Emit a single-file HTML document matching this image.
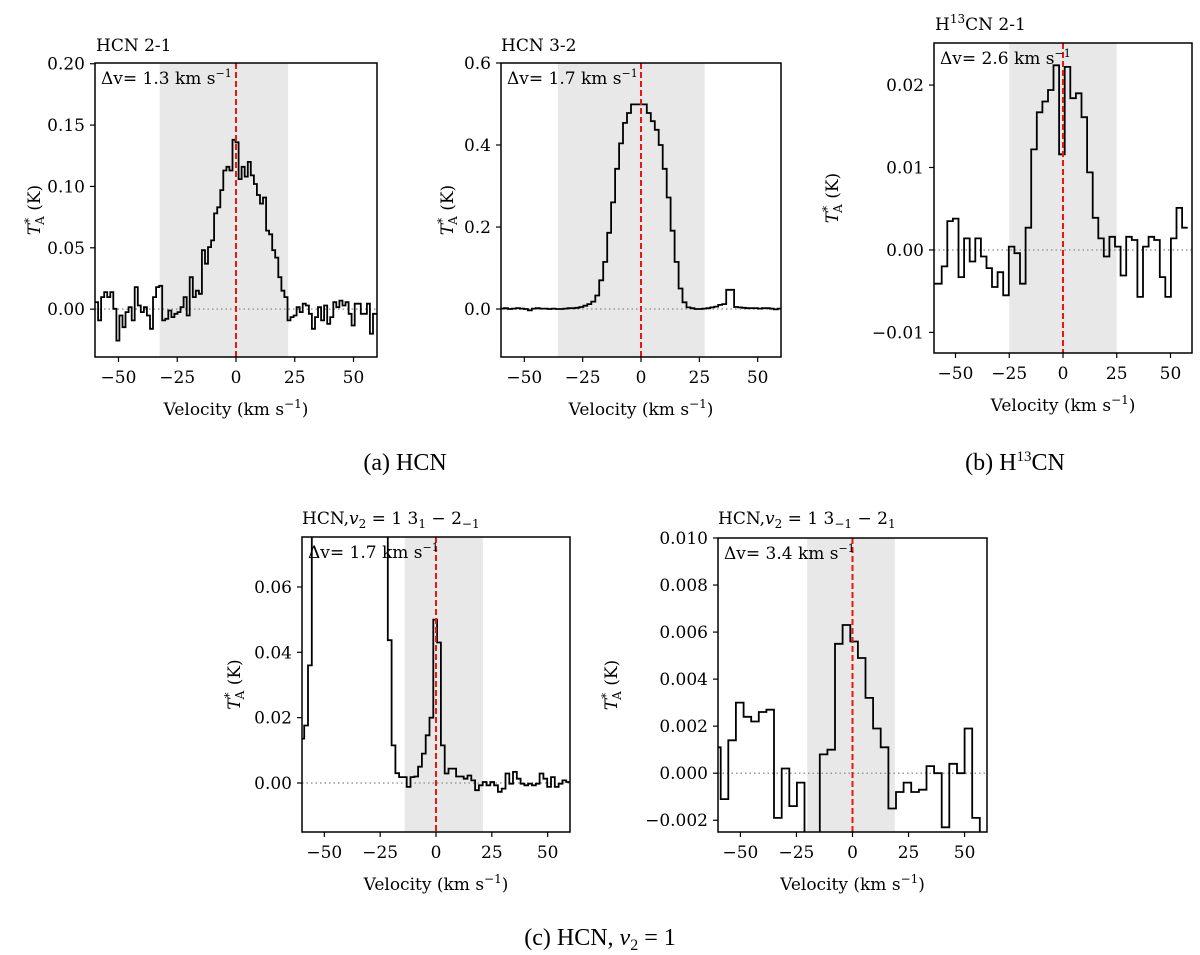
<!DOCTYPE html>
<html><head><meta charset="utf-8"><style>
html,body{margin:0;padding:0;background:#fff;}
svg{display:block;}
.tk{font-family:"DejaVu Serif","Liberation Serif",serif;font-size:17px;fill:#000;}
.lb{font-family:"DejaVu Serif","Liberation Serif",serif;font-size:17px;fill:#000;}
.ti{font-family:"DejaVu Serif","Liberation Serif",serif;font-size:17px;fill:#000;}
.cap{font-family:"Liberation Serif",serif;font-size:24px;fill:#000;}
</style></head><body>
<svg id="fig" width="1200" height="955" viewBox="0 0 1200 955" xmlns="http://www.w3.org/2000/svg">
<text class="cap" x="405" y="470" text-anchor="middle">(a) HCN</text>
<text class="cap" x="1015" y="470" text-anchor="middle">(b) H<tspan dy="-9" font-size="15">13</tspan><tspan dy="9">CN</tspan></text>
<text class="cap" x="600" y="945" text-anchor="middle">(c) HCN, <tspan font-style="italic">v</tspan><tspan dy="5" font-size="16">2</tspan><tspan dy="-5"> = 1</tspan></text>
</svg>
<script>
// ---- data ----
const hcn21Start = -60, hcn21Width = 1.3;
const hcn21Values = [0.0057,-0.0092,0.0098,0.0139,0.0098,0.0139,0.0003,-0.0256,-0.0052,-0.0147,-0.0024,0.0016,-0.0092,0.018,0.003,-0.0024,0.0016,-0.0052,-0.016,0.0098,0.018,0.019,-0.0092,-0.0079,-0.0011,-0.0065,-0.0038,-0.0024,0.0016,0.0098,-0.0052,0.026,0.0098,0.015,0.0125,0.048,0.037,0.0506,0.056,0.078,0.083,0.097,0.113,0.116,0.113,0.138,0.136,0.106,0.116,0.108,0.12,0.109,0.102,0.093,0.086,0.091,0.064,0.061,0.048,0.042,0.026,0.015,0.0098,-0.0092,-0.0065,-0.0052,0.0016,-0.0024,0.0044,0.003,-0.0038,-0.016,-0.0065,0.0016,-0.0092,0.003,-0.012,-0.0065,0.0057,0.0016,0.007,0.003,0.0057,-0.0038,-0.0133,0.0044,0.0044,-0.0038,-0.0038,0.0044,-0.02,-0.0038,-0.0038,-0.012];
const hcn32Start = -60.4, hcn32Width = 1.7;
const hcn32Values = [0.001,0.002,0.0,0.001,0.002,0.001,0.0,-0.003,0.001,0.002,0.001,0.001,0.0,0.001,0.0,0.0,0.001,0.002,0.002,0.003,0.005,0.008,0.012,0.018,0.033,0.07,0.115,0.186,0.26,0.342,0.404,0.454,0.478,0.499,0.499,0.499,0.499,0.478,0.458,0.437,0.4,0.342,0.272,0.191,0.115,0.05,0.0165,0.004,0.002,0.0,0.0,0.001,0.002,0.004,0.006,0.01,0.012,0.047,0.047,0.005,0.004,0.003,0.002,0.002,0.002,0.001,0.002,0.002,0.001,-0.001,0.001];
const h13cnStart = -61.6, h13cnWidth = 2.6;
const h13cnValues = [-0.0041,-0.0041,-0.002,0.0035,0.0038,-0.0033,0.0014,-0.0014,0.0014,-0.0008,-0.0022,-0.0045,-0.0027,-0.0055,0.0004,-0.0004,-0.0041,0.0027,0.0122,0.0167,0.018,0.0194,0.0224,0.0116,0.0222,0.0184,0.019,0.0161,0.0094,0.0039,0.0014,-0.0008,0.0016,0.0004,-0.0031,0.0016,0.0012,-0.0057,0.0004,0.0016,0.0012,-0.0033,-0.0057,0.0014,0.0051,0.0027];
const v2aStart = -60.7, v2aWidth = 1.7;
const v2aValues = [0.0136,0.0176,0.036,0.3,0.3,0.3,0.3,0.3,0.3,0.3,0.3,0.3,0.3,0.3,0.3,0.3,0.3,0.3,0.3,0.3,0.3,0.3,0.3,0.0437,0.0115,0.003,0.0018,0.0018,-0.0012,0.0018,0.002,0.005,0.009,0.0146,0.02,0.05,0.043,0.0115,0.0029,0.0044,0.0044,0.002,0.002,0.0013,0.0023,0.0008,-0.0022,-0.0007,0.0003,-0.0007,0.0003,-0.0007,-0.0027,-0.0017,0.0029,-0.0002,0.0034,0.0013,-0.0002,-0.0007,-0.0002,-0.0007,-0.0002,0.0029,0.0013,-0.0012,0.0018,-0.0012,-0.0002,0.0008,0.0003];
const v2bStart = -62.2, v2bWidth = 3.4;
const v2bValues = [0.0011,-0.0011,0.0014,0.003,0.0024,0.0022,0.0026,0.0027,-0.0019,0.0002,-0.0014,-0.0004,-0.003,-0.003,0.0008,0.001,0.0055,0.0063,0.0056,0.0049,0.0032,0.0019,0.0011,-0.0015,-0.0008,-0.0004,-0.0008,-0.0007,0.0003,0.0,-0.0023,0.0004,0.0,0.0019,-0.0019,-0.0026];
const xTicks = [-50,-25,0,25,50];
const hcn21YTicks = [0,0.05,0.10,0.15,0.20], hcn21YLabels = ["0.00","0.05","0.10","0.15","0.20"];
const hcn32YTicks = [0,0.2,0.4,0.6], hcn32YLabels = ["0.0","0.2","0.4","0.6"];
const h13cnYTicks = [-0.01,0,0.01,0.02], h13cnYLabels = ["\u22120.01","0.00","0.01","0.02"];
const v2aYTicks = [0,0.02,0.04,0.06], v2aYLabels = ["0.00","0.02","0.04","0.06"];
const v2bYTicks = [-0.002,0,0.002,0.004,0.006,0.008,0.010], v2bYLabels = ["\u22120.002","0.000","0.002","0.004","0.006","0.008","0.010"];
const bands = [[-32.5,22.2],[-35.6,27.3],[-25,25],[-14,21],[-20.2,18.9]];
const dvLabels = ["1.3","1.7","2.6","1.7","3.4"];

const NS = "http://www.w3.org/2000/svg";
const fig = document.getElementById('fig');
function mk(tag, attrs, parent){ const e=document.createElementNS(NS,tag); for(const k in attrs) e.setAttribute(k,attrs[k]); (parent||fig).appendChild(e); return e; }

const panels = [
 {id:'hcn21', L:95,R:377,T:63,B:357, ymin:-0.039, ymax:0.2006, start:hcn21Start, w:hcn21Width, vals:hcn21Values, yt:hcn21YTicks, yl:hcn21YLabels, band:bands[0], dv:dvLabels[0], ylx:40},
 {id:'hcn32', L:501,R:781,T:63,B:357, ymin:-0.117, ymax:0.6, start:hcn32Start, w:hcn32Width, vals:hcn32Values, yt:hcn32YTicks, yl:hcn32YLabels, band:bands[1], dv:dvLabels[1], ylx:453},
 {id:'h13cn', L:934,R:1192,T:43,B:353, ymin:-0.0125, ymax:0.0251, start:h13cnStart, w:h13cnWidth, vals:h13cnValues, yt:h13cnYTicks, yl:h13cnYLabels, band:bands[2], dv:dvLabels[2], ylx:838},
 {id:'v2a', L:302,R:570,T:537,B:832, ymin:-0.015, ymax:0.0753, start:v2aStart, w:v2aWidth, vals:v2aValues, yt:v2aYTicks, yl:v2aYLabels, band:bands[3], dv:dvLabels[3], ylx:240},
 {id:'v2b', L:718,R:987,T:538,B:832, ymin:-0.0025, ymax:0.010, start:v2bStart, w:v2bWidth, vals:v2bValues, yt:v2bYTicks, yl:v2bYLabels, band:bands[4], dv:dvLabels[4], ylx:617}
];

panels.forEach((p,pi)=>{
  const X = v => p.L + (v+60)/120*(p.R-p.L);
  const Y = v => p.B - (v-p.ymin)/(p.ymax-p.ymin)*(p.B-p.T);
  const g = mk('g',{});
  
  
  const cp = mk('clipPath',{id:'c'+pi},g);
  mk('rect',{x:p.L,y:p.T,width:p.R-p.L,height:p.B-p.T},cp);
  const band = mk('rect',{x:X(p.band[0]),y:p.T,width:X(p.band[1])-X(p.band[0]),height:p.B-p.T,fill:'#e8e8e8'},g);
  
  
  const zl = mk('line',{x1:p.L,x2:p.R,y1:Y(0),y2:Y(0),stroke:'#999','stroke-width':1.5,'stroke-dasharray':'1.5,3'},g);
  
  
  let d='';
  p.vals.forEach((v,i)=>{
    const x0=X(p.start+i*p.w), x1=X(p.start+(i+1)*p.w), y=Y(v);
    d += (i===0?'M':'L')+x0.toFixed(1)+','+y.toFixed(1)+'L'+x1.toFixed(1)+','+y.toFixed(1);
  });
  const sp = mk('path',{d:d,fill:'none',stroke:'#000','stroke-width':1.8,'clip-path':'url(#c'+pi+')'},g);
  
  
  const rl = mk('line',{x1:X(0),x2:X(0),y1:p.T,y2:p.B,stroke:'#e8170f','stroke-width':2,'stroke-dasharray':'6,3'},g);
  
  
  mk('rect',{x:p.L,y:p.T,width:p.R-p.L,height:p.B-p.T,fill:'none',stroke:'#000','stroke-width':1.5},g);
  xTicks.forEach(t=>{
    mk('line',{x1:X(t),x2:X(t),y1:p.B,y2:p.B+5,stroke:'#000','stroke-width':1.2},g);
    const tx = mk('text',{x:X(t),y:p.B+26,'text-anchor':'middle',class:'tk'},g);
    tx.textContent = t<0 ? '\u2212'+Math.abs(t) : String(t);
    
    
  });
  p.yt.forEach((t,i)=>{
    mk('line',{x1:p.L-5,x2:p.L,y1:Y(t),y2:Y(t),stroke:'#000','stroke-width':1.2},g);
    const ty = mk('text',{x:p.L-10,y:Y(t)+6,'text-anchor':'end',class:'tk'},g);
    ty.textContent = p.yl[i];
    
    
  });
  const xl = mk('text',{x:(p.L+p.R)/2,y:p.B+58,'text-anchor':'middle',class:'lb'},g);
  xl.innerHTML = 'Velocity (km s<tspan dy="-7" font-size="12">\u22121</tspan><tspan dy="7">)</tspan>';
  
  
  const cy=(p.T+p.B)/2;
  const yl = mk('text',{x:p.ylx,y:cy,'text-anchor':'middle',class:'lb',transform:'rotate(-90 '+p.ylx+' '+cy+')'},g);
  yl.innerHTML = '<tspan font-style="italic">T</tspan><tspan dy="-7" font-size="12">*</tspan><tspan dx="-7" dy="11" font-size="12">A</tspan><tspan dy="-4"> (K)</tspan>';
  
  
  const dv = mk('text',{x:p.L+6,y:p.T+21,class:'tk','font-size':'16'},g);
  dv.innerHTML = '\u0394v= '+p.dv+' km s<tspan dy="-7" font-size="11">\u22121</tspan>';
  
  
});

function title(x,y,html,name){
  const t = mk('text',{x:x,y:y,class:'ti'});
  t.innerHTML = html;
  
  
}
title(96,51,'HCN 2-1','title-hcn-2-1');
title(501,51,'HCN 3-2','title-hcn-3-2');
title(935,30,'H<tspan dy="-7" font-size="12">13</tspan><tspan dy="7">CN 2-1</tspan>','title-h13cn-2-1');
title(302,524,'HCN,<tspan font-style="italic">v</tspan><tspan dy="4" font-size="12">2</tspan><tspan dy="-4"> = 1 3</tspan><tspan dy="4" font-size="12">1</tspan><tspan dy="-4"> \u2212 2</tspan><tspan dy="4" font-size="12">\u22121</tspan>','title-v2-3-1');
title(718,524,'HCN,<tspan font-style="italic">v</tspan><tspan dy="4" font-size="12">2</tspan><tspan dy="-4"> = 1 3</tspan><tspan dy="4" font-size="12">\u22121</tspan><tspan dy="-4"> \u2212 2</tspan><tspan dy="4" font-size="12">1</tspan>','title-v2-3-m1');
</script>
</body></html>
